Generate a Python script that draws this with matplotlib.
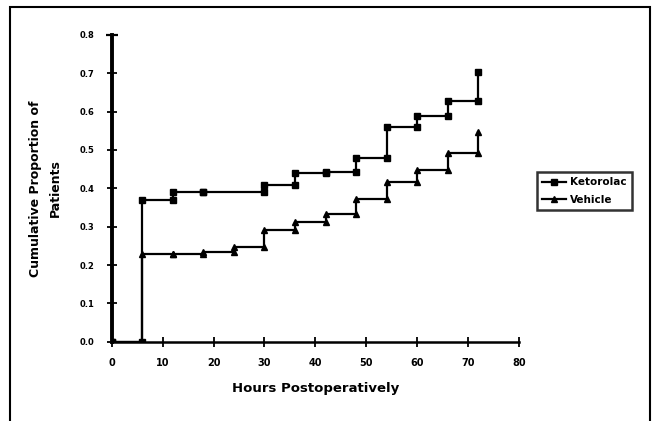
import numpy as np
import matplotlib.pyplot as plt
from matplotlib.patches import Rectangle

# hours postoperatively and cumulative proportion after each step
hours = [0, 6, 12, 18, 30, 36, 42, 48, 54, 60, 66, 72]
ketorolac = [0.0, 0.37, 0.39, 0.39, 0.41, 0.44, 0.443, 0.478, 0.559, 0.589, 0.629, 0.704]
hours_v = [0, 6, 12, 18, 24, 30, 36, 42, 48, 54, 60, 66, 72]
vehicle = [0.0, 0.228, 0.228, 0.235, 0.248, 0.291, 0.313, 0.333, 0.371, 0.416, 0.448, 0.491, 0.548]
labels = ['Ketorolac', 'Vehicle']
xticks = [0, 10, 20, 30, 40, 50, 60, 70, 80]
yticks = [0.0, 0.1, 0.2, 0.3, 0.4, 0.5, 0.6, 0.7, 0.8]


def km_steps(t, p):
    # each step drawn as (t, previous level) -> (t, new level)
    xs = np.repeat(t, 2)
    prev = [0.0] + list(p[:-1])
    ys = np.ravel(np.column_stack([prev, p]))
    return xs, ys


plt.rcParams['font.family'] = ['DejaVu Sans']
plt.rcParams['font.weight'] = 'bold'

fig = plt.figure(figsize=(6.55, 4.21), dpi=100)
ax = fig.add_axes([0.1705, 0.1884, 0.622, 0.7285])

x1, y1 = km_steps(hours, ketorolac)
x2, y2 = km_steps(hours_v, vehicle)
ax.plot(x1, y1, color='black', lw=1.6, marker='s', markersize=5, label=labels[0])
ax.plot(x2, y2, color='black', lw=1.6, marker='^', markersize=5, label=labels[1])

ax.set_xlim(0, 80)
ax.set_ylim(0, 0.8)
ax.set_xticks(xticks)
ax.set_yticks(yticks)
ax.set_xticklabels([str(v) for v in xticks], fontsize=7, fontweight='bold')
ax.set_yticklabels(['%.1f' % v for v in yticks], fontsize=6, fontweight='bold')
ax.tick_params(axis='both', direction='inout', length=7, width=1.3, color='black')
ax.tick_params(axis='x', pad=8)
ax.tick_params(axis='y', pad=9)

ax.spines['right'].set_visible(False)
ax.spines['top'].set_visible(False)
ax.spines['left'].set_linewidth(2.8)
ax.spines['bottom'].set_linewidth(1.8)
ax.plot([0], [0.8], marker='_', markersize=9, mew=1.6, color='black', clip_on=False)

ax.set_xlabel('Hours Postoperatively', fontsize=9.5, fontweight='heavy', labelpad=10)
ax.set_ylabel('Cumulative Proportion of\nPatients', fontsize=9, fontweight='heavy', labelpad=13,
              linespacing=1.6)

leg = ax.legend(loc='upper left', bbox_to_anchor=(1.03, 0.57), fontsize=7.5, frameon=True,
                fancybox=False, edgecolor='black', handlelength=2.3, borderpad=0.5,
                labelspacing=0.7, handletextpad=0.4)
leg.get_frame().set_linewidth(1.8)

# page border around the figure
fig.patches.append(Rectangle((10 / 655, -0.1), 640 / 655, 1.1 - 7 / 421, transform=fig.transFigure,
                             fill=False, edgecolor='black', lw=1.5))

fig.savefig('out.png', dpi=100)
